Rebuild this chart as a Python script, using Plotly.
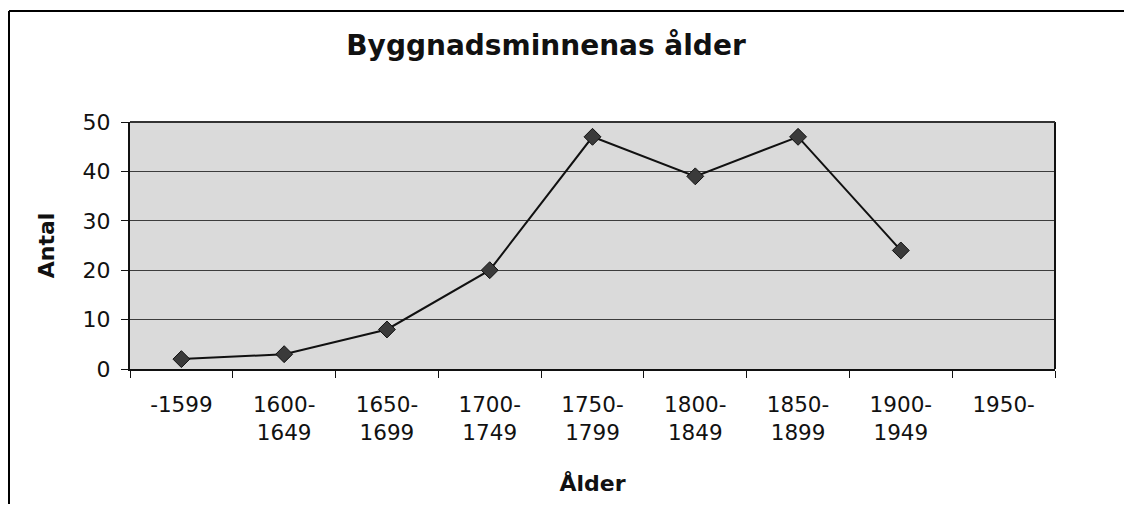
import plotly.graph_objects as go

categories = ["-1599", "1600-<br>1649", "1650-<br>1699", "1700-<br>1749", "1750-<br>1799",
              "1800-<br>1849", "1850-<br>1899", "1900-<br>1949", "1950-"]
antal = [2, 3, 8, 20, 47, 39, 47, 24, None]
y_ticks = [0, 10, 20, 30, 40, 50]

# page body has an 8px margin, so figure is placed at (8, 8) on screen
OFF = 8
W, H = 1124, 496
L, R, T = 122, 77, 114
B = H - (369 - OFF)
pw, ph = W - L - R, H - T - B

fig = go.Figure()
fig.add_trace(go.Scatter(
    x=categories, y=antal, mode="lines+markers",
    line=dict(color="#111111", width=2),
    marker=dict(symbol="diamond", size=13, color="#3a3a3a", line=dict(color="#111111", width=1)),
    connectgaps=False, showlegend=False,
))

FONT = "DejaVu Sans, Liberation Sans, Arial, sans-serif"

fig.update_layout(
    width=W, height=H,
    margin=dict(l=L, r=R, t=T, b=B),
    paper_bgcolor="white", plot_bgcolor="#dadada",
    font=dict(family=FONT, color="#111111", size=21),
    title=dict(text="<b>Byggnadsminnenas ålder</b>", x=(546 - OFF) / W, xanchor="center",
               xref="container", y=1 - (45 - OFF) / H, yanchor="middle",
               font=dict(size=28)),
    xaxis=dict(
        type="category", categoryorder="array", categoryarray=categories,
        range=[-0.5, len(categories) - 0.5],
        tickson="boundaries", ticks="outside", ticklen=7, tickcolor="#111111",
        ticklabelstandoff=15,
        showgrid=False, showline=True, linecolor="#111111", linewidth=2,
        mirror=False, zeroline=False,
        title=dict(text="<b>Ålder</b>", standoff=32, font=dict(size=22)),
        tickfont=dict(size=21.5),
    ),
    yaxis=dict(
        range=[0, 50], tickvals=y_ticks, ticks="outside", ticklen=7, tickcolor="#111111",
        ticklabelstandoff=6,
        showgrid=True, gridcolor="#3c3c3c", gridwidth=1,
        showline=True, linecolor="#111111", linewidth=2, mirror=False, zeroline=False,
        title=dict(text="<b>Antal</b>", standoff=22, font=dict(size=22)),
        tickfont=dict(size=22),
    ),
)

# right border of plot area
fig.add_shape(type="line", xref="paper", yref="paper", x0=1, x1=1, y0=0, y1=1,
              line=dict(color="#111111", width=2))
# top border of plot area
fig.add_shape(type="line", xref="paper", yref="paper", x0=0, x1=1, y0=1, y1=1,
              line=dict(color="#333333", width=2))

# outer frame (scan edge): top and left lines
def px_x(px):
    return (px - OFF - L) / pw

def px_y(py):
    return (H - B - (py - OFF)) / ph

fig.add_shape(type="line", xref="paper", yref="paper",
              x0=px_x(9), x1=px_x(OFF + W + 5), y0=px_y(11), y1=px_y(11),
              line=dict(color="#000000", width=2))
fig.add_shape(type="line", xref="paper", yref="paper",
              x0=px_x(9), x1=px_x(9), y0=px_y(11), y1=px_y(OFF + H + 5),
              line=dict(color="#000000", width=2))

fig.write_html("out.html")
